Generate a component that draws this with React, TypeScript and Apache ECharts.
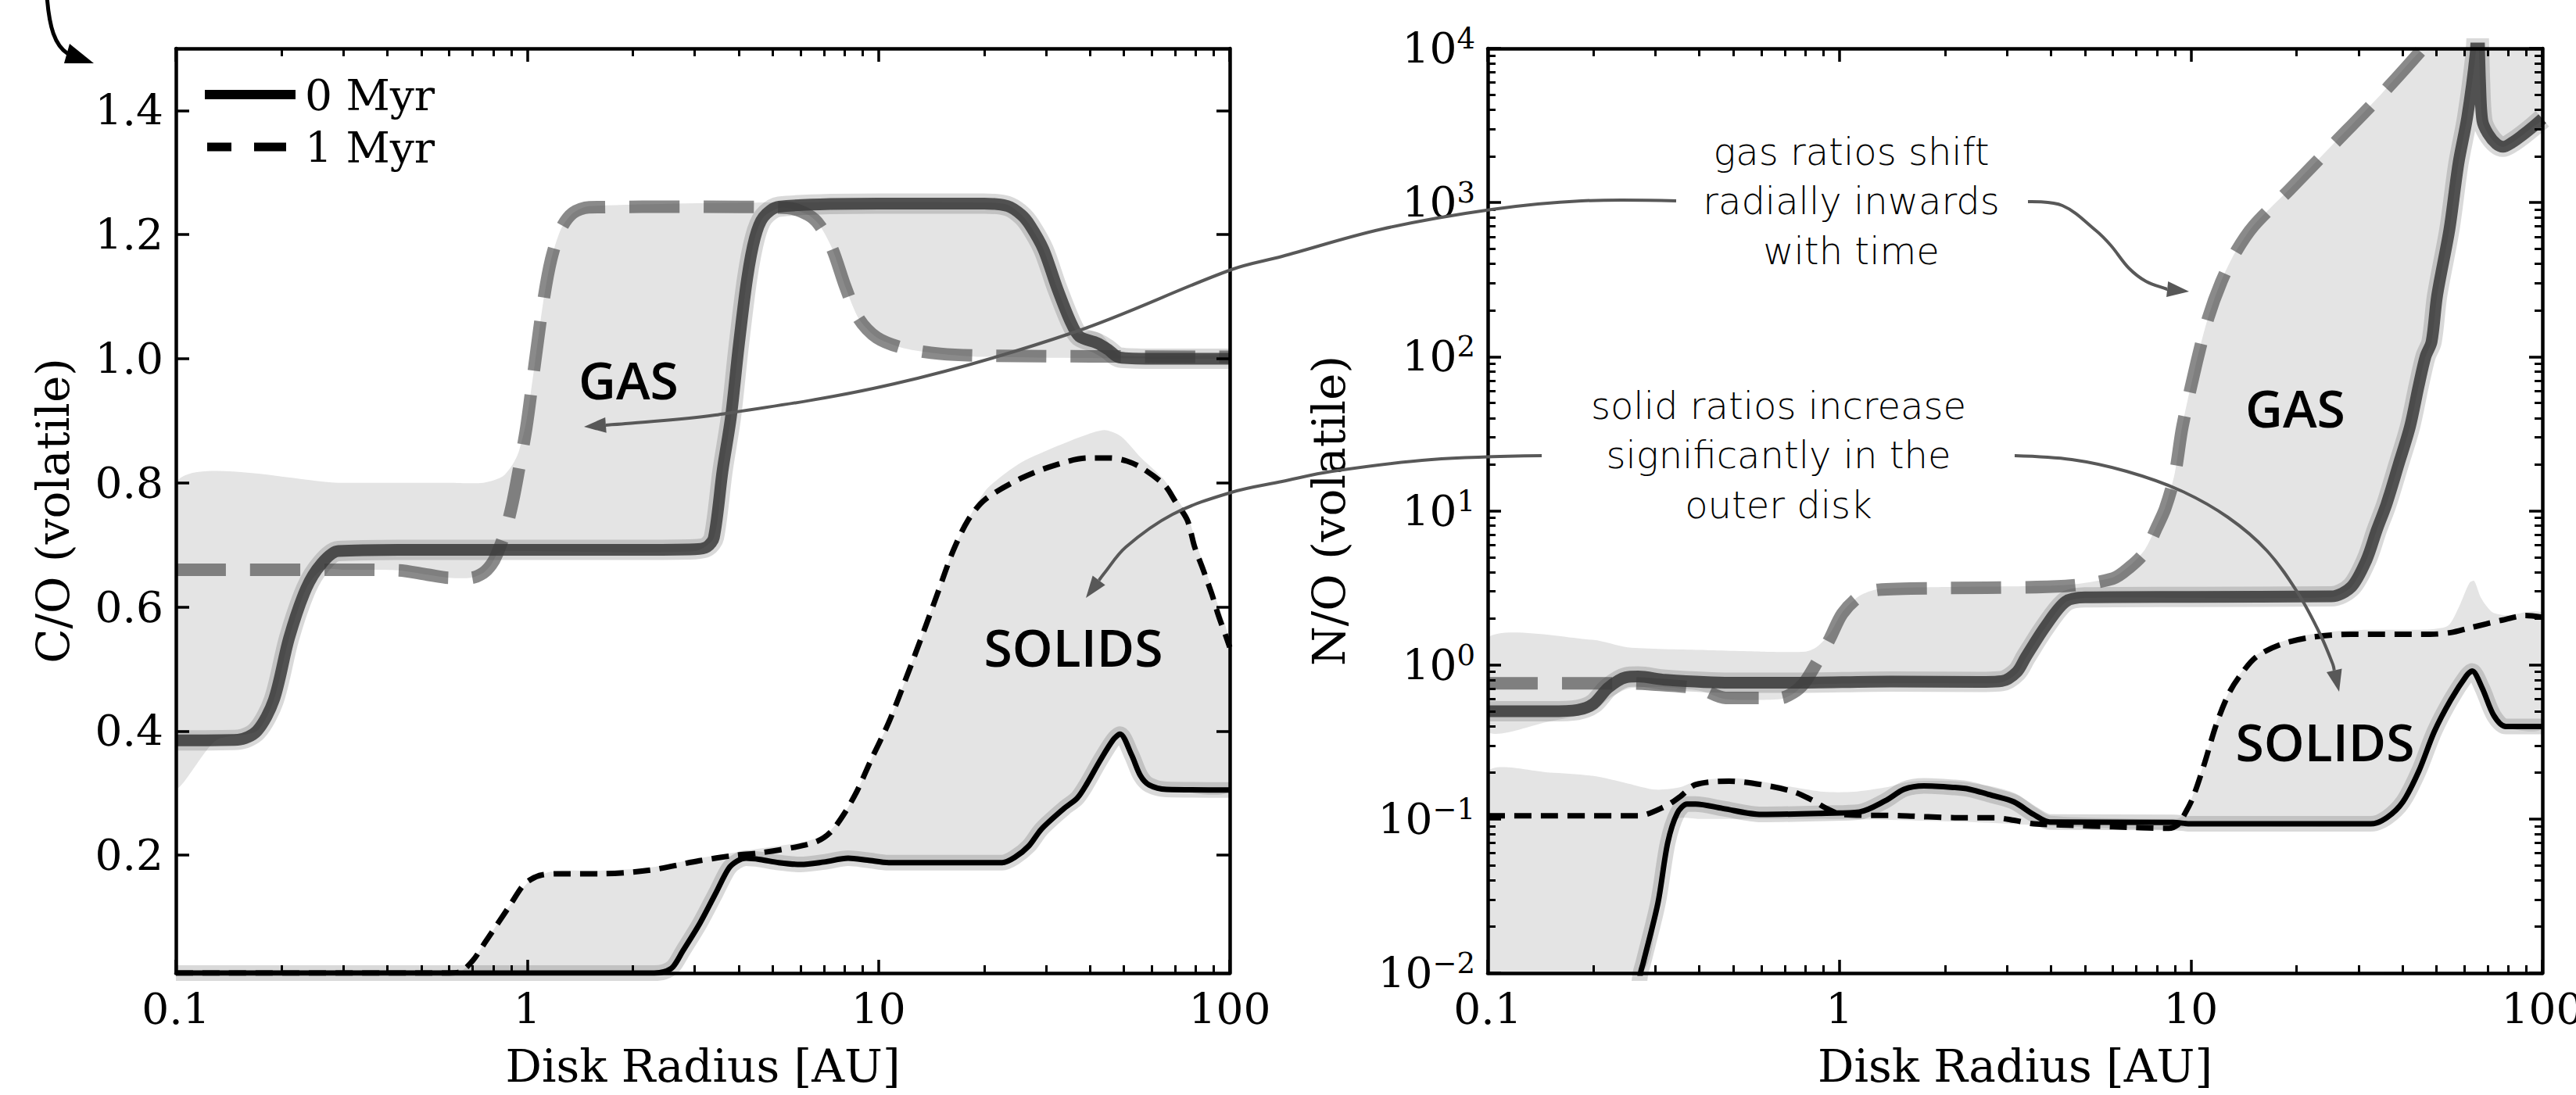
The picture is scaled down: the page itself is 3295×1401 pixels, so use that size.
import React, { useEffect, useRef } from 'react';
import * as echarts from 'echarts';

// ---------------- tick values ----------------
const X_MAJOR = [0.1, 1, 10, 100];
const X_MINOR = [0.2, 0.3, 0.4, 0.5, 0.6, 0.7, 0.8, 0.9, 2, 3, 4, 5, 6, 7, 8, 9, 20, 30, 40, 50, 60, 70, 80, 90];
const CO_TICKS = [0.2, 0.4, 0.6, 0.8, 1.0, 1.2, 1.4];
const NO_MAJOR = [0.01, 0.1, 1, 10, 100, 1000, 10000];
const NO_MINOR = [
  0.02, 0.03, 0.04, 0.05, 0.06, 0.07, 0.08, 0.09,
  0.2, 0.3, 0.4, 0.5, 0.6, 0.7, 0.8, 0.9,
  2, 3, 4, 5, 6, 7, 8, 9,
  20, 30, 40, 50, 60, 70, 80, 90,
  200, 300, 400, 500, 600, 700, 800, 900,
  2000, 3000, 4000, 5000, 6000, 7000, 8000, 9000,
];

// ---------------- C/O panel (left) ----------------
const gasCO_0Myr: [number, number][] = [
  [0.1, 0.385], [0.15, 0.386], [0.17, 0.4], [0.19, 0.45], [0.21, 0.55], [0.235, 0.63], [0.26, 0.67], [0.29, 0.69],
  [0.5, 0.692], [1, 0.692], [2, 0.692], [3.0, 0.693], [3.25, 0.697], [3.4, 0.712], [3.6, 0.82], [3.8, 0.905],
  [4.0, 1.02], [4.23, 1.13], [4.45, 1.195], [4.7, 1.228], [5.2, 1.245], [10, 1.25], [20, 1.25], [23.3, 1.246],
  [25.5, 1.232], [27, 1.215], [29.5, 1.176], [32.2, 1.115], [35.2, 1.06], [37.3, 1.036], [42, 1.025], [45, 1.015],
  [48.5, 1.002], [60, 1.0], [100, 1.0],
];
const gasCO_1Myr: [number, number][] = [
  [0.1, 0.66], [0.3, 0.66], [0.43, 0.659], [0.52, 0.652], [0.6, 0.647], [0.69, 0.647], [0.75, 0.655], [0.79, 0.668],
  [0.82, 0.685], [0.87, 0.725], [0.91, 0.77], [0.946, 0.82], [0.995, 0.89], [1.05, 0.99], [1.11, 1.09], [1.17, 1.16],
  [1.25, 1.21], [1.35, 1.235], [1.5, 1.244], [3, 1.245], [5.5, 1.243], [6.3, 1.232], [6.8, 1.215], [7.4, 1.176],
  [8.06, 1.115], [8.8, 1.064], [9.9, 1.034], [11.8, 1.017], [15, 1.008], [20, 1.005], [100, 1.003],
];
const gasCO_bandUpper: [number, number][] = [
  [0.1, 0.8], [0.3, 0.8], [0.6, 0.8], [0.75, 0.8], [0.85, 0.81], [0.91, 0.83], [0.946, 0.85], [0.995, 0.9],
  [1.05, 0.99], [1.11, 1.09], [1.17, 1.16], [1.25, 1.21], [1.35, 1.235], [1.5, 1.246], [5, 1.252], [20, 1.252],
  [23.3, 1.248], [25.5, 1.232], [27, 1.215], [29.5, 1.176], [32.2, 1.115], [35.2, 1.06], [37.3, 1.04], [40, 1.045],
  [43, 1.04], [46, 1.02], [48.5, 1.005], [100, 1.005],
];
const gasCO_bandLower: [number, number][] = [
  [0.1, 0.31], [0.13, 0.385], [0.17, 0.4], [0.19, 0.45], [0.21, 0.55], [0.235, 0.63], [0.26, 0.66], [0.3, 0.66],
  [0.43, 0.659], [0.52, 0.652], [0.6, 0.647], [0.69, 0.647], [0.75, 0.655], [0.79, 0.668], [0.82, 0.685], [0.85, 0.69],
  [3.0, 0.69], [3.4, 0.712], [3.6, 0.82], [3.8, 0.905], [4.0, 1.02], [4.23, 1.13], [4.45, 1.195], [4.7, 1.228],
  [5.2, 1.243], [5.5, 1.243], [6.3, 1.232], [6.8, 1.215], [7.4, 1.176], [8.06, 1.115], [8.8, 1.064], [9.9, 1.034],
  [11.8, 1.017], [15, 1.008], [20, 1.003], [100, 1.0],
];
const solCO_0Myr: [number, number][] = [
  [0.1, 0.01], [2.3, 0.01], [2.45, 0.012], [2.6, 0.02], [2.77, 0.045], [3.1, 0.09], [3.45, 0.14], [3.74, 0.178],
  [3.95, 0.19], [4.2, 0.195], [4.6, 0.193], [5.2, 0.188], [6.0, 0.185], [7.0, 0.189], [8.2, 0.195], [9.3, 0.192],
  [10.7, 0.188], [15, 0.188], [22.5, 0.188], [24.5, 0.197], [26.8, 0.215], [29.1, 0.242], [33.7, 0.275], [36.8, 0.292],
  [39.1, 0.314], [42.7, 0.352], [46.6, 0.386], [48.7, 0.395], [52.5, 0.362], [55.7, 0.328], [59, 0.313], [66, 0.306],
  [100, 0.305],
];
const solCO_1Myr: [number, number][] = [
  [0.1, 0.01], [0.6, 0.01], [0.645, 0.012], [0.7, 0.03], [0.76, 0.06], [0.893, 0.119], [0.97, 0.15], [1.025, 0.161],
  [1.1, 0.168], [1.24, 0.17], [1.62, 0.17], [2.24, 0.176], [3.09, 0.191], [3.93, 0.2], [4.5, 0.203], [5.8, 0.213],
  [6.67, 0.222], [7.3, 0.237], [7.97, 0.266], [8.7, 0.304], [9.5, 0.352], [10.7, 0.414], [12.0, 0.486], [13.5, 0.563],
  [14.8, 0.625], [16.3, 0.69], [18, 0.74], [20.1, 0.773], [25.4, 0.807], [31.2, 0.827], [39.5, 0.84], [45.8, 0.84],
  [51, 0.835], [56.2, 0.824], [65.3, 0.796], [70, 0.77], [75.7, 0.74], [79.4, 0.697], [84, 0.66], [89, 0.62],
  [93, 0.585], [97.5, 0.553], [100, 0.535],
];
const solCO_bandUpper: [number, number][] = [
  [0.6, 0.01], [0.645, 0.012], [0.7, 0.03], [0.76, 0.06], [0.893, 0.119], [1.025, 0.161], [1.14, 0.172], [1.24, 0.175],
  [1.62, 0.175], [2.24, 0.18], [3.09, 0.195], [4.5, 0.21], [6.2, 0.222], [6.97, 0.232], [7.3, 0.24], [7.97, 0.266],
  [8.7, 0.304], [9.5, 0.352], [10.7, 0.414], [12.0, 0.486], [13.5, 0.563], [14.8, 0.625], [16.3, 0.69], [20, 0.785],
  [25, 0.83], [31, 0.855], [38, 0.875], [44, 0.885], [49, 0.875], [56, 0.84], [65, 0.805], [76, 0.745], [80, 0.705],
  [89, 0.63], [100, 0.54],
];
const solCO_bandLower: [number, number][] = [
  [0.6, 0.01], [2.3, 0.01], [2.45, 0.012], [2.6, 0.02], [2.77, 0.045], [3.1, 0.09], [3.45, 0.14], [3.74, 0.178],
  [3.95, 0.19], [4.2, 0.195], [4.6, 0.193], [5.2, 0.188], [6.0, 0.185], [7.0, 0.189], [8.2, 0.195], [9.3, 0.192],
  [10.7, 0.188], [15, 0.188], [22.5, 0.188], [24.5, 0.197], [26.8, 0.215], [29.1, 0.242], [33.7, 0.275], [36.8, 0.292],
  [39.1, 0.314], [42.7, 0.352], [46.6, 0.386], [48.7, 0.395], [52.5, 0.362], [55.7, 0.328], [59, 0.313], [66, 0.306],
  [100, 0.305],
];

// ---------------- N/O panel (right) ----------------
const gasNO_0Myr: [number, number][] = [
  [0.1, 0.5], [0.15, 0.5], [0.18, 0.51], [0.2, 0.56], [0.22, 0.71], [0.247, 0.83], [0.268, 0.84], [0.32, 0.8],
  [0.49, 0.765], [0.74, 0.765], [1.4, 0.78], [2.5, 0.775], [2.9, 0.785], [3.2, 0.9], [3.39, 1.12], [3.86, 1.78],
  [4.4, 2.57], [5.0, 2.74], [10, 2.76], [25.1, 2.78], [28.6, 3.2], [31.6, 4.8], [33.8, 7.5], [36, 11], [39, 20],
  [42, 35], [44.5, 65], [46.5, 100], [48.4, 125], [50.2, 250], [54.4, 670], [57.7, 1790], [61.1, 3560], [64.5, 9000],
  [65.5, 16000], [66.5, 6000], [67.5, 3400], [70, 2800], [74, 2400], [77.3, 2300], [82, 2450], [88, 2750],
  [94, 3100], [100, 3500],
];
const gasNO_1Myr: [number, number][] = [
  [0.1, 0.76], [0.246, 0.76], [0.286, 0.75], [0.4, 0.7], [0.475, 0.61], [0.68, 0.61], [0.74, 0.66], [0.79, 0.75],
  [0.86, 1.02], [0.94, 1.48], [1.02, 2.15], [1.14, 2.77], [1.29, 3.07], [2.0, 3.15], [4.4, 3.25], [6.0, 3.63],
  [6.7, 4.3], [7.4, 5.4], [8.0, 7.8], [8.45, 10.3], [9.0, 17], [9.46, 35], [10.4, 93], [11.2, 178], [12.2, 305],
  [13.4, 474], [15.1, 707], [19, 1200], [25.5, 2400], [34.2, 4800], [44.9, 9550], [50, 13000],
];
const gasNO_bandUpper: [number, number][] = [
  [0.1, 1.5], [0.2, 1.45], [0.25, 1.3], [0.4, 1.25], [0.6, 1.22], [0.8, 1.22], [0.86, 1.3], [0.94, 1.6],
  [1.02, 2.2], [1.14, 2.8], [1.29, 3.1], [2.0, 3.2], [4.4, 3.3], [6.0, 3.7], [6.7, 4.4], [7.4, 5.6], [8.0, 8],
  [8.45, 10.5], [9.0, 17.5], [9.46, 36], [10.4, 95], [11.2, 180], [12.2, 310], [13.4, 480], [15.1, 715], [19, 1210],
  [25.5, 2420], [34.2, 4850], [44.9, 9600], [47, 10000], [100, 10000],
];
const gasNO_bandLower: [number, number][] = [
  [0.1, 0.37], [0.15, 0.43], [0.2, 0.5], [0.22, 0.6], [0.25, 0.7], [0.3, 0.72], [0.4, 0.68], [0.475, 0.6],
  [0.68, 0.6], [0.74, 0.65], [0.8, 0.74], [1.4, 0.76], [2.5, 0.76], [2.9, 0.77], [3.2, 0.88], [3.39, 1.1],
  [3.86, 1.75], [4.4, 2.55], [5.0, 2.72], [25.1, 2.75], [28.6, 3.2], [31.6, 4.8], [33.8, 7.5], [36, 11], [39, 20],
  [42, 35], [44.5, 65], [46.5, 100], [48.4, 125], [50.2, 250], [54.4, 670], [57.7, 1790], [61.1, 3560], [64.5, 9000],
  [65.5, 16000], [66.5, 6000], [67.5, 3400], [70, 2800], [74, 2400], [77.3, 2300], [82, 2450], [88, 2750],
  [94, 3100], [100, 3500],
];
const solNO_0Myr: [number, number][] = [
  [0.2, 0.001], [0.26, 0.005], [0.272, 0.01], [0.277, 0.0117], [0.305, 0.0286], [0.325, 0.07], [0.346, 0.109],
  [0.369, 0.125], [0.39, 0.125], [0.466, 0.117], [0.6, 0.107], [0.92, 0.109], [1.14, 0.111], [1.35, 0.131],
  [1.53, 0.156], [1.74, 0.164], [2.13, 0.16], [2.34, 0.156], [2.76, 0.141], [3.14, 0.129], [3.57, 0.107],
  [3.97, 0.0955], [8.9, 0.095], [10, 0.093], [32.5, 0.093], [36.1, 0.102], [40.1, 0.129], [44.5, 0.204],
  [49.3, 0.37], [54.8, 0.589], [60.8, 0.85], [63.1, 0.912], [67.4, 0.708], [72.8, 0.468], [78.7, 0.398], [100, 0.398],
];
const solNO_1Myr: [number, number][] = [
  [0.1, 0.105], [0.268, 0.105], [0.318, 0.12], [0.353, 0.14], [0.39, 0.167], [0.486, 0.176], [0.6, 0.167],
  [0.743, 0.15], [0.845, 0.131], [0.92, 0.117], [1.02, 0.107], [1.5, 0.105], [2.13, 0.102], [2.76, 0.102],
  [3.14, 0.098], [3.57, 0.093], [4.63, 0.091], [6.0, 0.089], [8.66, 0.087], [9.2, 0.092], [9.48, 0.102],
  [10.1, 0.135], [10.9, 0.224], [11.8, 0.407], [12.8, 0.646], [13.8, 0.851], [15.3, 1.12], [17.9, 1.35], [22, 1.51],
  [28.6, 1.58], [48, 1.58], [54.8, 1.62], [62.3, 1.74], [76.7, 1.95], [89.5, 2.09], [100, 2.04],
];
const solNO_bandUpper: [number, number][] = [
  [0.1, 0.2], [0.15, 0.2], [0.2, 0.19], [0.25, 0.17], [0.3, 0.155], [0.35, 0.16], [0.39, 0.175], [0.486, 0.185],
  [0.6, 0.175], [0.75, 0.16], [0.9, 0.15], [1.1, 0.15], [1.35, 0.16], [1.6, 0.175], [2.2, 0.175], [2.8, 0.16],
  [3.2, 0.145], [3.6, 0.12], [4.0, 0.105], [9.0, 0.1], [9.48, 0.105], [10.1, 0.14], [10.9, 0.23], [11.8, 0.42],
  [12.8, 0.66], [13.8, 0.87], [15.3, 1.15], [17.9, 1.4], [22, 1.58], [28.6, 1.68], [48, 1.7], [54, 1.8], [58, 2.4],
  [62, 3.4], [64, 3.5], [67, 2.7], [72, 2.2], [80, 2.1], [90, 2.2], [100, 2.15],
];
const solNO_bandLower: [number, number][] = [
  [0.1, 0.01], [0.272, 0.01], [0.305, 0.0286], [0.325, 0.07], [0.346, 0.1], [0.4, 0.1], [1.0, 0.1], [2.5, 0.095],
  [4, 0.09], [8.66, 0.085], [9.5, 0.088], [10, 0.09], [32.5, 0.09], [36.1, 0.1], [40.1, 0.126], [44.5, 0.2],
  [49.3, 0.365], [54.8, 0.58], [60.8, 0.84], [63.1, 0.9], [67.4, 0.7], [72.8, 0.46], [78.7, 0.39], [100, 0.39],
];

// ---------------- styles ----------------
const SERIF = 'DejaVu Serif';
const NOTE_FONT = '"DejaVu Sans Light", "DejaVu Sans", sans-serif';
const LABEL_FONT = '"Open Sans", Lato, sans-serif';
const BAND = '#e4e4e4';
const GAS0 = 'rgba(35,35,35,0.75)';
const GAS1 = 'rgba(60,60,60,0.6)';
const HALO = 'rgba(0,0,0,0.15)';
const ARROW = '#585858';

function xAxisDef(gridIndex: number, position: 'top' | 'bottom', major: boolean, labels: boolean) {
  return {
    type: 'log', logBase: 10, gridIndex, position, min: 0.1, max: 100, z: 10,
    name: labels ? 'Disk Radius [AU]' : '', nameLocation: 'middle', nameGap: 90,
    nameTextStyle: { fontFamily: SERIF, fontSize: 58, color: '#000' },
    axisLine: { show: major, onZero: false, lineStyle: { color: '#000', width: 4.5 } },
    axisTick: {
      show: true, inside: true, length: major ? 17 : 10, customValues: major ? X_MAJOR : X_MINOR,
      lineStyle: { color: '#000', width: major ? 3.5 : 3 },
    },
    axisLabel: labels
      ? {
          show: true, customValues: X_MAJOR, margin: 18, fontFamily: SERIF, fontSize: 55, color: '#000',
          showMinLabel: true, showMaxLabel: true,
          formatter: (v: number) => (v < 0.5 ? '0.1' : String(Math.round(v))),
        }
      : { show: false },
    splitLine: { show: false },
    minorTick: { show: false },
  };
}

function coYAxis(position: 'left' | 'right', labels: boolean) {
  return {
    type: 'value', gridIndex: 0, position, min: 0.01, max: 1.5, z: 10,
    name: labels ? 'C/O (volatile)' : '', nameLocation: 'middle', nameGap: 128,
    nameTextStyle: { fontFamily: SERIF, fontSize: 58, color: '#000' },
    axisLine: { show: true, onZero: false, lineStyle: { color: '#000', width: 4.5 } },
    axisTick: { show: true, inside: true, length: 17, customValues: CO_TICKS, lineStyle: { color: '#000', width: 3.5 } },
    axisLabel: labels
      ? {
          show: true, customValues: CO_TICKS, margin: 16, fontFamily: SERIF, fontSize: 55, color: '#000',
          formatter: (v: number) => v.toFixed(1),
        }
      : { show: false },
    splitLine: { show: false },
  };
}

function noYAxis(position: 'left' | 'right', major: boolean, labels: boolean) {
  return {
    type: 'log', logBase: 10, gridIndex: 1, position, min: 0.01, max: 10000, z: 10,
    name: labels ? 'N/O (volatile)' : '', nameLocation: 'middle', nameGap: 174,
    nameTextStyle: { fontFamily: SERIF, fontSize: 58, color: '#000' },
    axisLine: { show: major, onZero: false, lineStyle: { color: '#000', width: 4.5 } },
    axisTick: {
      show: true, inside: true, length: major ? 17 : 10, customValues: major ? NO_MAJOR : NO_MINOR,
      lineStyle: { color: '#000', width: major ? 3.5 : 3 },
    },
    axisLabel: labels
      ? {
          show: true, customValues: NO_MAJOR, margin: 16, color: '#000',
          showMinLabel: true, showMaxLabel: true,
          formatter: (v: number) => {
            const e = Math.round(Math.log10(v));
            return '{b|10}{s|' + (e < 0 ? '\u2212' + -e : String(e)) + '}';
          },
          rich: {
            b: { fontFamily: SERIF, fontSize: 55, color: '#000', lineHeight: 62 },
            s: { fontFamily: SERIF, fontSize: 37, color: '#000', lineHeight: 36, verticalAlign: 'top' },
          },
        }
      : { show: false },
    splitLine: { show: false },
    minorTick: { show: false },
  };
}

function bandSeries(upper: [number, number][], lower: [number, number][], xi: number, yi: number) {
  return {
    type: 'custom', xAxisIndex: xi, yAxisIndex: yi, z: 1, silent: true, clip: true,
    data: [[upper[0][0], upper[0][1]]],
    renderItem: (_p: any, api: any) => {
      const pts = upper.map((p) => api.coord(p)).concat(lower.slice().reverse().map((p) => api.coord(p)));
      return { type: 'polygon', shape: { points: pts, smooth: 0.25 }, style: { fill: BAND, stroke: null } };
    },
  };
}

function lineSeries(name: string, data: [number, number][], xi: number, yi: number, color: string, width: number,
  type: any, z: number) {
  return {
    type: 'line', name, data, xAxisIndex: xi, yAxisIndex: yi, symbol: 'none', showSymbol: false,
    smooth: 0.3, clip: true, silent: true, z,
    lineStyle: { color, width, type, cap: 'butt', join: 'round' },
  };
}

function panelSeries(p: {
  gas0: [number, number][]; gas1: [number, number][]; gU: [number, number][]; gL: [number, number][];
  sol0: [number, number][]; sol1: [number, number][]; sU: [number, number][]; sL: [number, number][];
  xi: number; yi: number;
}) {
  return [
    bandSeries(p.gU, p.gL, p.xi, p.yi),
    bandSeries(p.sU, p.sL, p.xi, p.yi),
    lineSeries('halo gas', p.gas0, p.xi, p.yi, HALO, 26, 'solid', 2),
    lineSeries('halo solids', p.sol0, p.xi, p.yi, HALO, 20, 'solid', 2),
    lineSeries('gas 0 Myr', p.gas0, p.xi, p.yi, GAS0, 15, 'solid', 3),
    lineSeries('gas 1 Myr', p.gas1, p.xi, p.yi, GAS1, 16, [64, 31], 3),
    lineSeries('solids 1 Myr', p.sol1, p.xi, p.yi, '#000', 7, [22, 12], 4),
    lineSeries('solids 0 Myr', p.sol0, p.xi, p.yi, '#000', 7, 'solid', 4),
  ];
}

// ---------------- annotation helpers ----------------
function arrow(pts: number[][], tip: number[], color: string, width: number, len = 28, half = 10) {
  const prev = pts[pts.length - 1];
  let dx = tip[0] - prev[0];
  let dy = tip[1] - prev[1];
  const d = Math.hypot(dx, dy) || 1;
  dx /= d; dy /= d;
  const bx = tip[0] - dx * len;
  const by = tip[1] - dy * len;
  const nx = -dy, ny = dx;
  return [
    {
      type: 'polyline', z: 100, silent: true,
      shape: { points: [...pts, [bx, by]], smooth: 0.35 },
      style: { stroke: color, lineWidth: width, fill: null },
    },
    {
      type: 'polygon', z: 100, silent: true,
      shape: { points: [tip, [bx + nx * half, by + ny * half], [bx - nx * half, by - ny * half]] },
      style: { fill: color, stroke: null },
    },
  ];
}

function txt(text: string, x: number, y: number, size: number, font: string, weight: any = 'normal') {
  return {
    type: 'text', x, y, z: 100, silent: true,
    style: { text, fill: '#000', fontSize: size, fontFamily: font, fontWeight: weight, align: 'center', verticalAlign: 'middle' },
  };
}

function buildOption() {
  const graphic: any[] = [
    // legend
    { type: 'line', z: 100, shape: { x1: 262, y1: 121, x2: 378, y2: 121 }, style: { stroke: '#000', lineWidth: 12 } },
    { type: 'line', z: 100, shape: { x1: 265, y1: 188, x2: 296, y2: 188 }, style: { stroke: '#000', lineWidth: 11 } },
    { type: 'line', z: 100, shape: { x1: 325, y1: 188, x2: 366, y2: 188 }, style: { stroke: '#000', lineWidth: 11 } },
    {
      type: 'text', x: 390, y: 122, z: 100,
      style: { text: '0 Myr', fill: '#000', fontSize: 55, fontFamily: SERIF, align: 'left', verticalAlign: 'middle' },
    },
    {
      type: 'text', x: 390, y: 189, z: 100,
      style: { text: '1 Myr', fill: '#000', fontSize: 55, fontFamily: SERIF, align: 'left', verticalAlign: 'middle' },
    },
    // region labels
    txt('GAS', 804, 485, 66, LABEL_FONT, 600),
    txt('SOLIDS', 1373, 827, 66, LABEL_FONT, 600),
    txt('GAS', 2936, 521, 66, LABEL_FONT, 600),
    txt('SOLIDS', 2974, 948, 66, LABEL_FONT, 600),
    // annotation text
    txt('gas ratios shift', 2368, 194, 48, NOTE_FONT, 200),
    txt('radially inwards', 2368, 257, 48, NOTE_FONT, 200),
    txt('with time', 2368, 321, 48, NOTE_FONT, 200),
    txt('solid ratios increase', 2275, 519, 48, NOTE_FONT, 200),
    txt('significantly in the', 2275, 582, 48, NOTE_FONT, 200),
    txt('outer disk', 2275, 646, 48, NOTE_FONT, 200),
    // arrows
    ...arrow([[2144, 257], [2023, 257], [1908, 268], [1768, 293], [1640, 328], [1575, 345], [1374, 425], [1144, 491], [915, 531], [800, 542]], [747, 546], ARROW, 4),
    ...arrow([[2594, 258], [2638, 263], [2681, 295], [2700, 314], [2723, 343], [2745, 360], [2772, 370]], [2800, 373], ARROW, 4),
    ...arrow([[1972, 583], [1831, 588], [1704, 603], [1640, 616], [1575, 630], [1500, 658], [1440, 700], [1412, 734]], [1389, 765], ARROW, 4),
    ...arrow([[2577, 583], [2650, 588], [2720, 603], [2790, 628], [2850, 662], [2900, 705], [2940, 760], [2968, 812], [2984, 850]], [2992, 885], ARROW, 4),
    // black arrow top-left
    {
      type: 'bezierCurve', z: 100,
      shape: { x1: 60, y1: -5, cpx1: 63, cpy1: 35, cpx2: 70, cpy2: 58, x2: 87, y2: 69 },
      style: { stroke: '#000', lineWidth: 5, fill: null },
    },
    { type: 'polygon', z: 100, shape: { points: [[82, 81], [89, 56], [120, 81]] }, style: { fill: '#000' } },
  ];

  return {
    animation: false,
    backgroundColor: '#ffffff',
    textStyle: { fontFamily: SERIF },
    grid: [
      { left: 225, top: 62, width: 1348, height: 1183, outerBoundsMode: 'none', containLabel: false },
      { left: 1903, top: 62, width: 1349, height: 1183, outerBoundsMode: 'none', containLabel: false },
    ],
    xAxis: [
      xAxisDef(0, 'bottom', true, true),
      xAxisDef(0, 'bottom', false, false),
      xAxisDef(0, 'top', true, false),
      xAxisDef(0, 'top', false, false),
      xAxisDef(1, 'bottom', true, true),
      xAxisDef(1, 'bottom', false, false),
      xAxisDef(1, 'top', true, false),
      xAxisDef(1, 'top', false, false),
    ],
    yAxis: [
      coYAxis('left', true),
      coYAxis('right', false),
      noYAxis('left', true, true),
      noYAxis('left', false, false),
      noYAxis('right', true, false),
      noYAxis('right', false, false),
    ],
    series: [
      ...panelSeries({
        gas0: gasCO_0Myr, gas1: gasCO_1Myr, gU: gasCO_bandUpper, gL: gasCO_bandLower,
        sol0: solCO_0Myr, sol1: solCO_1Myr, sU: solCO_bandUpper, sL: solCO_bandLower, xi: 0, yi: 0,
      }),
      ...panelSeries({
        gas0: gasNO_0Myr, gas1: gasNO_1Myr, gU: gasNO_bandUpper, gL: gasNO_bandLower,
        sol0: solNO_0Myr, sol1: solNO_1Myr, sU: solNO_bandUpper, sL: solNO_bandLower, xi: 4, yi: 2,
      }),
    ],
    graphic,
  };
}

export default function App() {
  const ref = useRef<HTMLDivElement>(null);
  useEffect(() => {
    if (!ref.current) return;
    const chart = echarts.init(ref.current, null, { renderer: 'svg' });
    chart.setOption(buildOption() as any);
    return () => chart.dispose();
  }, []);
  return (
    <div
      ref={ref}
      style={{ position: 'fixed', left: 0, top: 0, width: 3295, height: 1401, background: '#fff' }}
    />
  );
}
